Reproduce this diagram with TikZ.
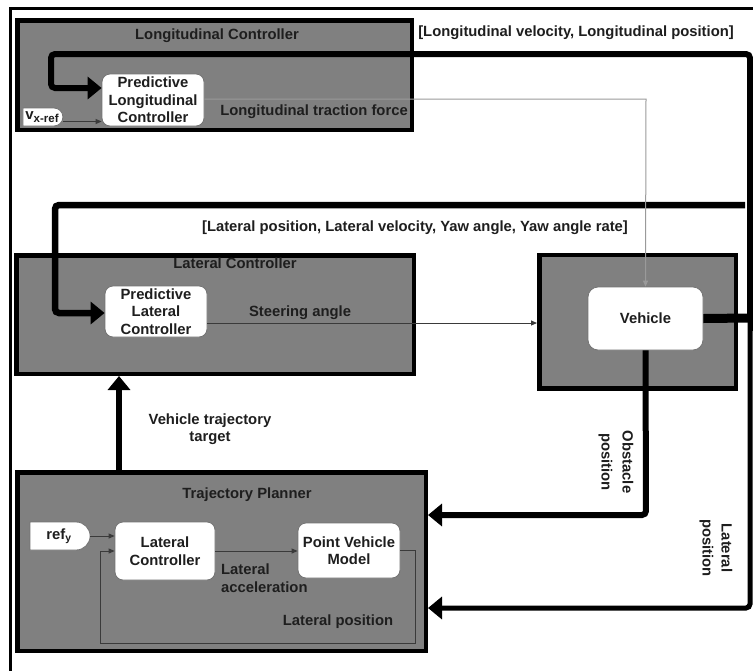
\documentclass[tikz,border=0pt]{standalone}
\usepackage{fontspec}
\setmainfont{Liberation Sans}
\usetikzlibrary{arrows.meta,shapes.misc,calc}
\definecolor{grayfill}{HTML}{808080}
\definecolor{txt}{HTML}{1E1E1E}
\definecolor{sigline}{HTML}{3A3A3A}
\definecolor{sigwhite}{HTML}{9A9A9A}
\begin{document}
\begin{tikzpicture}[x=1pt,y=-1pt,
  font=\fontsize{14.8}{17.5}\selectfont\bfseries,
  grp/.style={draw=black,line width=4.5pt,fill=grayfill,inner sep=0pt},
  blk/.style={draw=black!55,line width=0.8pt,fill=white,rounded corners=8pt,align=center,inner sep=0pt,text=txt},
  dshape/.style={draw=black!55,line width=0.8pt,fill=white,rounded rectangle,rounded rectangle left arc=none,inner sep=0pt,text=txt},
  bus/.style={draw=black,line width=6.5pt,rounded corners=4pt},
  busarrow/.style={bus,-{Triangle[length=14pt,width=22pt]}},
  sig/.style={draw=sigline,line width=1pt,-{Triangle[length=6pt,width=5pt]}},
  lbl/.style={text=txt,align=center,inner sep=0pt},
]
\useasboundingbox (0,0) rectangle (753,670);
\fill[white] (0,0) rectangle (753,670);

% outer frame
\draw[line width=3pt] (10,672) -- (10,8) -- (755,8);

% group boxes
\node[grp,minimum width=394.5pt,minimum height=109.5pt] (longgrp) at (214.5,75) {};
\node[grp,minimum width=397.5pt,minimum height=118.5pt] (latgrp) at (215,314.5) {};
\node[grp,minimum width=196.5pt,minimum height=133.5pt] (vehgrp) at (637.5,321.5) {};
\node[grp,minimum width=408.5pt,minimum height=178.5pt] (trajgrp) at (221.5,561.5) {};

% coordinates
\coordinate (junc) at (750,318);
\coordinate (busTR) at (750,54);
\coordinate (busTL) at (51,54);
\coordinate (busTD) at (51,88);
\coordinate (latR) at (745,205);
\coordinate (latL) at (55,205);
\coordinate (latD) at (55,313);
\coordinate (obsC) at (646,515);
\coordinate (lposC) at (750,608);
\coordinate (trajS) at (119,470);
\coordinate (fbR) at (415,643);
\coordinate (fbL) at (100,643);
\coordinate (tracC) at (646,99);

% blocks
\node[blk,minimum width=102pt,minimum height=52pt] (plcl) at (153,100) {Predictive\\Longitudinal\\Controller};
\node[blk,minimum width=102pt,minimum height=51pt] (platc) at (156,311.5) {Predictive\\Lateral\\Controller};
\node[blk,minimum width=115pt,minimum height=63pt,rounded corners=10pt] (veh) at (645.5,318.5) {Vehicle};
\node[blk,minimum width=100pt,minimum height=58pt] (lc) at (165,551) {Lateral\\Controller};
\node[blk,minimum width=102pt,minimum height=55pt] (pvm) at (349,550.5) {Point Vehicle\\Model};
\node[dshape,minimum width=40pt,minimum height=18pt] (vxref) at (42,117) {\fontsize{15}{15}\selectfont v\raisebox{-3pt}{\fontsize{11.5}{12}\selectfont x-ref}};
\node[dshape,minimum width=60pt,minimum height=28pt] (refy) at (59,536) {ref\textsubscript{y}};

\coordinate (vxo) at ($(vxref.east)+(0,4.5)$);
\coordinate (sto) at ($(platc.east)+(0,11.5)$);
\coordinate (lcin) at ($(plcl.west)+(0,-12)$);
\coordinate (latin) at ($(platc.west)+(0,1.5)$);

% thick buses
\draw[line width=9pt] (veh.east) -- (junc);
\fill[black] (747.5,300) rectangle (753,331);
\draw[busarrow,line width=6pt] (junc) -- (busTR) -- (busTL) -- (busTD) -- (lcin);
\draw[busarrow,line width=5pt] (junc) -- (lposC) -- (lposC -| trajgrp.east);
\draw[busarrow] (latR) -- (latL) -- (latD) -- (latin);
\draw[busarrow,line width=6pt] (veh.south) -- (obsC) -- (obsC -| trajgrp.east);
\draw[busarrow] (trajS) -- (trajS |- latgrp.south);

% thin signals
\draw[sig] (vxo) -- (vxo -| plcl.west);
\draw[sig,draw=sigwhite] (plcl.east |- tracC) -- (tracC) -- (veh.north);
\draw[sig] (sto) -- (sto -| vehgrp.west);
\draw[sig] (refy.east) -- (refy.east -| lc.west);
\draw[sig] (lc.east) -- (lc.east -| pvm.west);
\draw[sig] (pvm.east) -| (fbR) -- (fbL) |- (lc.west);

% labels
\node[lbl] (tLong) at (217,36) {Longitudinal Controller};
\node[lbl] (tLongOut) at (576,33) {[Longitudinal velocity, Longitudinal position]};
\node[lbl] (tTrac) at (314,112) {Longitudinal traction force};
\node[lbl] (tLatbus) at (415,228) {[Lateral position, Lateral velocity, Yaw angle, Yaw angle rate]};
\node[lbl] (tLat) at (235,263) {Lateral Controller};
\node[lbl] (tSteer) at (300,313) {Steering angle};
\node[lbl] (tVTT) at (210,429) {Vehicle trajectory\\target};
\node[lbl,rotate=-90,font=\fontsize{14.8}{21}\selectfont\bfseries] (tObs) at (616,462) {Obstacle\\position};
\node[lbl,rotate=-90,font=\fontsize{14.8}{19}\selectfont\bfseries] (tLpos) at (716,548) {Lateral\\position};
\node[lbl] (tTP) at (247,495) {Trajectory Planner};
\node[lbl,align=left,anchor=west] (tLacc) at (221,578) {Lateral\\acceleration};
\node[lbl] (tLposB) at (338,622) {Lateral position};
\end{tikzpicture}
\end{document}
